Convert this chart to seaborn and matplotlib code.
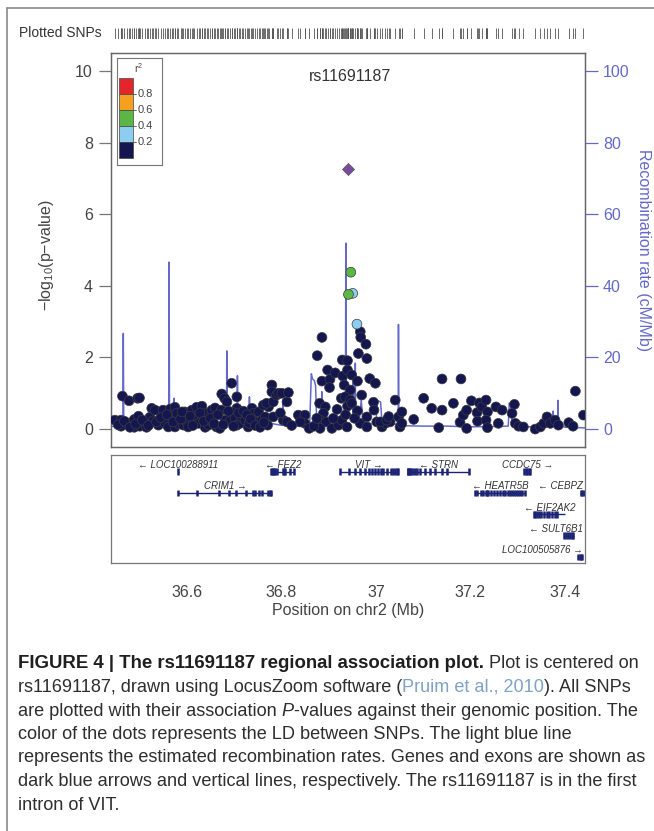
import matplotlib
matplotlib.use("Agg")
import matplotlib.pyplot as plt
from matplotlib.lines import Line2D
from matplotlib.patches import Rectangle
import seaborn as sns
import pandas as pd

# ---- data ----
# SNPs with r2 < 0.2 (navy)
snp_pos = [
    36.448, 36.461, 36.461, 36.464, 36.478, 36.473, 36.484, 36.489, 36.496, 36.500,
    36.498, 36.489, 36.501, 36.512, 36.515, 36.522, 36.526, 36.533, 36.529, 36.540,
    36.550, 36.554, 36.561, 36.565, 36.568, 36.575, 36.575, 36.579, 36.582, 36.593,
    36.596, 36.600, 36.603, 36.611, 36.616, 36.621, 36.625, 36.632, 36.633, 36.639,
    36.642, 36.646, 36.653, 36.654, 36.660, 36.663, 36.670, 36.673, 36.674, 36.680,
    36.685, 36.681, 36.695, 36.706, 36.706, 36.695, 36.692, 36.702, 36.706, 36.713,
    36.716, 36.723, 36.730, 36.732, 36.738, 36.741, 36.752, 36.748, 36.759, 36.766,
    36.773, 36.762, 36.769, 36.771,
    36.455, 36.468, 36.480, 36.492, 36.506, 36.519, 36.536, 36.545, 36.558, 36.571,
    36.587, 36.590, 36.607, 36.613, 36.628, 36.636, 36.650, 36.658, 36.666, 36.677,
    36.688, 36.699, 36.710, 36.720, 36.727, 36.735, 36.745, 36.755, 36.763,
    36.780, 36.780, 36.783, 36.790, 36.794, 36.801, 36.812, 36.815, 36.804, 36.812,
    36.783, 36.798, 36.836, 36.850, 36.850, 36.859, 36.840, 36.822, 36.876, 36.886,
    36.881, 36.893, 36.889, 36.882, 36.895, 36.882, 36.886, 36.898, 36.903, 36.902,
    36.914, 36.907, 36.921, 36.928, 36.939, 36.930, 36.940, 36.929, 36.940, 36.933,
    36.946, 36.927, 36.935, 36.940, 36.946, 36.949, 36.949, 36.961, 36.961, 36.970,
    36.967, 36.981, 36.981, 36.987, 36.999, 36.995, 36.996, 37.002, 37.013, 37.020,
    37.030, 37.041, 37.048, 37.051, 36.967, 36.968, 36.979, 36.963, 36.981, 36.910,
    36.918, 36.955, 36.936, 36.869, 36.875,
    37.009, 37.023, 37.027, 37.055, 37.055, 37.080, 37.101, 37.118, 37.140, 37.140,
    37.133, 37.164, 37.180, 37.178, 37.185, 37.192, 37.192, 37.202, 37.214, 37.215,
    37.219, 37.224, 37.233, 37.236, 37.233, 37.236, 37.254, 37.259, 37.267, 37.293,
    37.288, 37.295, 37.302, 37.312, 37.337, 37.348, 37.355, 37.362, 37.369, 37.379,
    37.386, 37.408, 37.417, 37.422, 37.439,
]
snp_logp = [
    0.25, 0.25, 0.08, 0.92, 0.79, 0.18, 0.16, 0.27, 0.86, 0.87,
    0.36, 0.05, 0.08, 0.20, 0.05, 0.33, 0.58, 0.53, 0.23, 0.11,
    0.53, 0.16, 0.06, 0.56, 0.33, 0.61, 0.06, 0.44, 0.16, 0.11,
    0.48, 0.20, 0.06, 0.53, 0.30, 0.61, 0.16, 0.64, 0.33, 0.05,
    0.44, 0.11, 0.53, 0.20, 0.59, 0.06, 0.02, 0.53, 0.98, 0.86,
    0.76, 0.25, 1.28, 0.90, 0.58, 0.48, 0.23, 0.30, 0.11, 0.16,
    0.33, 0.25, 0.06, 0.16, 0.58, 0.44, 0.48, 0.20, 0.25, 0.34,
    0.62, 0.67, 0.72, 0.11,
    0.12, 0.22, 0.05, 0.14, 0.25, 0.10, 0.20, 0.32, 0.40, 0.20,
    0.28, 0.48, 0.36, 0.10, 0.45, 0.22, 0.30, 0.15, 0.40, 0.12,
    0.50, 0.08, 0.45, 0.50, 0.40, 0.28, 0.10, 0.05, 0.18,
    1.23, 1.04, 0.76, 0.95, 1.00, 1.00, 0.76, 1.02, 0.25, 0.20,
    0.34, 0.45, 0.39, 0.39, 0.16, 0.02, 0.20, 0.10, 2.05, 2.56,
    0.72, 0.62, 0.44, 0.25, 0.20, 0.02, 1.34, 1.65, 1.39, 1.16,
    1.57, 0.02, 0.11, 0.25, 0.06, 1.48, 1.65, 1.93, 1.91, 1.23,
    1.09, 0.86, 0.90, 0.64, 0.81, 1.51, 0.72, 1.34, 0.51, 0.95,
    0.16, 0.34, 0.06, 1.41, 1.28, 0.75, 0.53, 0.20, 0.06, 0.16,
    0.20, 0.81, 0.34, 0.06, 2.72, 2.56, 2.37, 2.11, 1.97, 0.30,
    0.55, 0.30, 0.40, 0.08, 0.30,
    0.20, 0.25, 0.35, 0.48, 0.16, 0.27, 0.86, 0.58, 1.40, 0.53,
    0.04, 0.72, 1.40, 0.19, 0.39, 0.53, 0.02, 0.79, 0.46, 0.22,
    0.73, 0.62, 0.81, 0.48, 0.25, 0.04, 0.62, 0.16, 0.53, 0.69,
    0.44, 0.16, 0.08, 0.06, 0.00, 0.06, 0.16, 0.34, 0.16, 0.25,
    0.11, 0.18, 0.08, 1.06, 0.39,
]
# SNPs in moderate LD with the lead SNP
ld_pos = [36.960, 36.951, 36.947, 36.942]
ld_logp = [2.93, 3.79, 4.38, 3.76]
ld_bin = ["0.2-0.4", "0.2-0.4", "0.4-0.6", "0.4-0.6"]

lead_snp = "rs11691187"
lead_pos = 36.942
lead_logp = 7.25

r2_bins = ["0.8-1.0", "0.6-0.8", "0.4-0.6", "0.2-0.4", "0.0-0.2"]
r2_colors = ["#E3262B", "#F5A01E", "#5BB645", "#8CCDF0", "#14164F"]
r2_ticks = ["0.8", "0.6", "0.4", "0.2"]

recomb_pos = [
    36.440, 36.452, 36.4650, 36.4658, 36.4668, 36.480, 36.500, 36.520, 36.540,
    36.5618, 36.5626, 36.5636, 36.5720, 36.5732, 36.5745, 36.590, 36.610, 36.630,
    36.650, 36.670, 36.6840, 36.6847, 36.6856, 36.700, 36.7065, 36.7072, 36.7080,
    36.720, 36.7320, 36.7326, 36.7332, 36.760, 36.780, 36.8025, 36.8031, 36.8037,
    36.820, 36.840, 36.860, 36.8635, 36.8660, 36.8700, 36.8725, 36.8750, 36.8850,
    36.8857, 36.8864, 36.900, 36.920, 36.9355, 36.9365, 36.9375, 36.945, 36.9515,
    36.9520, 36.9525, 36.9560, 36.9565, 36.9570, 36.965, 36.969, 36.973, 36.990,
    37.000, 37.003, 37.010, 37.013, 37.030, 37.0472, 37.0478, 37.0486, 37.052,
    37.060, 37.100, 37.150, 37.200, 37.250, 37.280, 37.282, 37.286, 37.288,
    37.320, 37.360, 37.3745, 37.3750, 37.3755, 37.3800, 37.3850, 37.3855, 37.3860,
    37.400, 37.443,
]
recomb_rate = [
    0.8, 0.6, 0.7, 26.7, 0.8, 0.6, 0.9, 0.5, 0.8,
    0.7, 46.6, 1.5, 1.2, 8.6, 1.5, 2.0, 1.0, 1.8,
    0.9, 1.5, 1.2, 21.8, 2.0, 1.6, 1.0, 14.9, 2.0,
    1.5, 1.0, 9.0, 1.5, 1.2, 1.5, 1.0, 7.9, 1.2,
    1.0, 0.8, 1.2, 15.4, 14.0, 13.5, 12.0, 1.5, 1.2,
    10.4, 1.5, 1.0, 1.5, 2.0, 51.9, 3.0, 4.0, 3.0,
    12.8, 4.0, 3.0, 18.4, 3.0, 2.5, 8.0, 2.0, 1.5,
    1.5, 8.0, 7.5, 1.5, 1.2, 1.5, 29.2, 2.5, 1.5,
    0.9, 0.8, 0.8, 0.6, 0.7, 0.8, 7.2, 7.0, 0.8,
    0.6, 0.7, 1.0, 5.0, 1.2, 1.5, 1.0, 8.0, 1.0,
    0.5, 0.3,
]

gene_names = ["LOC100288911", "FEZ2", "VIT", "STRN", "CCDC75", "CRIM1",
              "HEATR5B", "CEBPZ", "EIF2AK2", "SULT6B1", "LOC100505876"]
gene_start = [36.581, 36.779, 36.924, 37.067, 37.314, 36.582,
              37.210, 37.432, 37.334, 37.397, 37.427]
gene_end = [36.583, 36.827, 37.046, 37.196, 37.327, 36.780,
            37.316, 37.443, 37.400, 37.418, 37.437]
gene_row = [0, 0, 0, 0, 0, 1, 1, 1, 2, 3, 4]
gene_strand = [-1, -1, 1, -1, 1, 1, -1, -1, -1, -1, 1]
gene_exons = [
    [36.582],
    [36.779, 36.781, 36.783, 36.785, 36.787, 36.790, 36.804, 36.806, 36.808, 36.818, 36.826],
    [36.924, 36.943, 36.955, 36.966, 36.976, 36.985, 36.992, 36.998, 37.004, 37.010,
     37.016, 37.024, 37.032, 37.036, 37.040, 37.044, 37.046],
    [37.067, 37.069, 37.071, 37.073, 37.075, 37.078, 37.082, 37.088, 37.094, 37.104,
     37.115, 37.126, 37.140, 37.150, 37.196],
    [37.314, 37.317, 37.320, 37.323, 37.326],
    [36.582, 36.622, 36.668, 36.690, 36.704, 36.726, 36.740, 36.745, 36.752, 36.760,
     36.772, 36.776, 36.779],
    [37.210, 37.214, 37.222, 37.226, 37.232, 37.235, 37.238, 37.244, 37.250, 37.256,
     37.262, 37.268, 37.274, 37.280, 37.284, 37.288, 37.292, 37.296, 37.300, 37.304,
     37.310, 37.316],
    [37.433, 37.437, 37.441],
    [37.334, 37.337, 37.340, 37.344, 37.350, 37.355, 37.361, 37.366, 37.372, 37.378, 37.384],
    [37.398, 37.402, 37.406, 37.410, 37.414, 37.417],
    [37.428, 37.431, 37.434, 37.437],
]

caption_lines = [
    [("FIGURE 4 | The rs11691187 regional association plot.", "bold"),
     (" Plot is centered on", "normal")],
    [("rs11691187, drawn using LocusZoom software (", "normal"),
     ("Pruim et al., 2010", "link"), ("). All SNPs", "normal")],
    [("are plotted with their association ", "normal"), ("P", "italic"),
     ("-values against their genomic position. The", "normal")],
    [("color of the dots represents the LD between SNPs. The light blue line", "normal")],
    [("represents the estimated recombination rates. Genes and exons are shown as", "normal")],
    [("dark blue arrows and vertical lines, respectively. The rs11691187 is in the first", "normal")],
    [("intron of VIT.", "normal")],
]

# ---- style ----
sns.set_style("white")
plt.rcParams["font.family"] = ["Liberation Sans", "DejaVu Sans"]
plt.rcParams["mathtext.fontset"] = "custom"
plt.rcParams["mathtext.rm"] = "Liberation Sans"
plt.rcParams["mathtext.it"] = "Liberation Sans:italic"

W, H = 654, 831
XMIN, XMAX = 36.4398, 37.4423
TXT = "#444444"
RECOMB = "#6469C9"
GENE = "#1B2474"


def fbox(left, top, right, bottom):
    return [left / W, 1 - bottom / H, (right - left) / W, (bottom - top) / H]


fig = plt.figure(figsize=(W / 100, H / 100), dpi=100)

# frame around the figure panel
fig.add_artist(Line2D([7 / W, 7 / W], [1 - 8 / H, 0], color="#8a8a8a", lw=1.2,
                      transform=fig.transFigure))
fig.add_artist(Line2D([7 / W, 1], [1 - 8 / H, 1 - 8 / H], color="#8a8a8a", lw=1.2,
                      transform=fig.transFigure))

# ---- main association panel ----
ax = fig.add_axes(fbox(111, 53, 585, 447))
ax2 = ax.twinx()
ax.set_zorder(ax2.get_zorder() + 1)
ax.patch.set_visible(False)

sns.lineplot(x=recomb_pos, y=recomb_rate, ax=ax2, color=RECOMB, lw=1.1,
             estimator=None, sort=False)
ax2.set_ylim(-5.03, 105)
ax2.set_yticks(range(0, 101, 20))
ax2.tick_params(axis="y", length=9, width=0.9, colors=RECOMB, labelsize=11.5, pad=4)

snps = pd.concat([
    pd.DataFrame({"pos": snp_pos, "logp": snp_logp, "ld": "0.0-0.2"}),
    pd.DataFrame({"pos": ld_pos, "logp": ld_logp, "ld": ld_bin}),
], ignore_index=True)
sns.scatterplot(data=snps, x="pos", y="logp", hue="ld",
                palette=dict(zip(r2_bins, r2_colors)), s=50,
                edgecolor="#3c3c3c", linewidth=0.5, legend=False, ax=ax, zorder=3)
ax.scatter([lead_pos], [lead_logp], marker="D", s=38, color="#7A4C9E",
           edgecolor="#555555", linewidth=0.5, zorder=4)
ax.text(36.946, 9.83, lead_snp, ha="center", va="center", fontsize=11.5, color="#333333")

ax.set_xlim(XMIN, XMAX)
ax.set_ylim(-0.5, 10.5)
ax.set_xticks([])
ax.set_yticks(range(0, 11, 2))
ax.tick_params(axis="y", length=9, width=0.9, colors="#777777", labelcolor=TXT,
               labelsize=11.5, pad=4)
ax.set_xlabel("")
ax.set_ylabel("")
for a in (ax, ax2):
    for sp in a.spines.values():
        sp.set_color("#666666")
        sp.set_linewidth(0.9)

fig.text(47 / W, 1 - 255 / H, r"$-$log$_{10}$(p$-$value)", rotation=90,
         ha="center", va="center", fontsize=11.5, color=TXT)
fig.text(643 / W, 1 - 250 / H, "Recombination rate (cM/Mb)", rotation=270,
         ha="center", va="center", fontsize=11.5, color=RECOMB)

# ---- r2 legend ----
lg = fig.add_axes(fbox(116.7, 58.3, 161.7, 165))
lg.set_xlim(0, 45)
lg.set_ylim(106.7, 0)
lg.set_xticks([])
lg.set_yticks([])
for sp in lg.spines.values():
    sp.set_color("#777777")
    sp.set_linewidth(0.8)
for i, c in enumerate(r2_colors):
    lg.add_patch(Rectangle((2.6, 20 + 16 * i), 13.4, 16, facecolor=c,
                           edgecolor="#444444", lw=0.5))
for i, t in enumerate(r2_ticks):
    yy = 36 + 16 * i
    lg.plot([16, 19], [yy, yy], color="#555555", lw=0.6)
    lg.text(20.5, yy, t, ha="left", va="center", fontsize=8, color="#444444")
lg.text(21.5, 9.5, r"r$^2$", ha="center", va="center", fontsize=7.5, color="#444444")

# ---- plotted SNPs strip ----
st = fig.add_axes(fbox(111, 27.5, 585, 38.5))
st.vlines(snp_pos + ld_pos + [lead_pos], 0, 1, color="#555555", lw=0.6)
st.set_xlim(XMIN, XMAX)
st.set_ylim(0, 1)
st.axis("off")
fig.text(19 / W, 1 - 33 / H, "Plotted SNPs", ha="left", va="center",
         fontsize=10, color="#333333")

# ---- gene panel ----
gx = fig.add_axes(fbox(111, 455, 585, 563))
gx.set_xlim(XMIN, XMAX)
gx.set_ylim(4.28, -0.78)
gx.set_yticks([])
gx.set_xticks([36.6, 36.8, 37.0, 37.2, 37.4])
gx.set_xticklabels(["36.6", "36.8", "37", "37.2", "37.4"])
gx.tick_params(axis="x", length=9, width=0.9, colors="#777777", labelcolor=TXT,
               labelsize=11.5, pad=7)
for sp in gx.spines.values():
    sp.set_color("#777777")
    sp.set_linewidth(0.9)

labels = []
for name, s, e, row, strand, exons in zip(gene_names, gene_start, gene_end,
                                          gene_row, gene_strand, gene_exons):
    gx.plot([s, e], [row, row], color=GENE, lw=1.0, solid_capstyle="butt")
    gx.vlines(exons, row - 0.16, row + 0.16, color=GENE, lw=1.8)
    lab = ("\u2190 " + name) if strand < 0 else (name + " \u2192")
    labels.append(gx.text((s + e) / 2, row - 0.32, lab, ha="center", va="center",
                          fontsize=7, style="italic", color="#333333"))

fig.text(348 / W, 1 - 611 / H, "Position on chr2 (Mb)", ha="center", va="center",
         fontsize=11.5, color=TXT)

# keep gene labels inside the panel
fig.canvas.draw()
rend = fig.canvas.get_renderer()
gbox = gx.get_window_extent(rend)
for t in labels:
    bb = t.get_window_extent(rend)
    shift = 0
    if bb.x1 > gbox.x1 - 2:
        shift = gbox.x1 - 2 - bb.x1
    elif bb.x0 < gbox.x0 + 2:
        shift = gbox.x0 + 2 - bb.x0
    if shift:
        x, y = gx.transData.transform(t.get_position())
        t.set_position(gx.transData.inverted().transform((x + shift, y)))

# ---- caption ----
styles = {
    "bold": dict(fontweight="bold", color="#1f1f1f", fontsize=13.4),
    "normal": dict(color="#2e2e2e", fontsize=13.05),
    "italic": dict(style="italic", color="#2e2e2e", fontsize=13.05),
    "link": dict(color="#7FA2C6", fontsize=13.05),
}
caption_y = [663, 687, 711, 734.5, 758, 781.5, 805]
for pieces, ypx in zip(caption_lines, caption_y):
    xd = 18.0
    for txt, kind in pieces:
        t = fig.text(xd / W, 1 - ypx / H, txt, ha="left", va="center", **styles[kind])
        xd += t.get_window_extent(rend).width

fig.savefig("out.png", dpi=100)
